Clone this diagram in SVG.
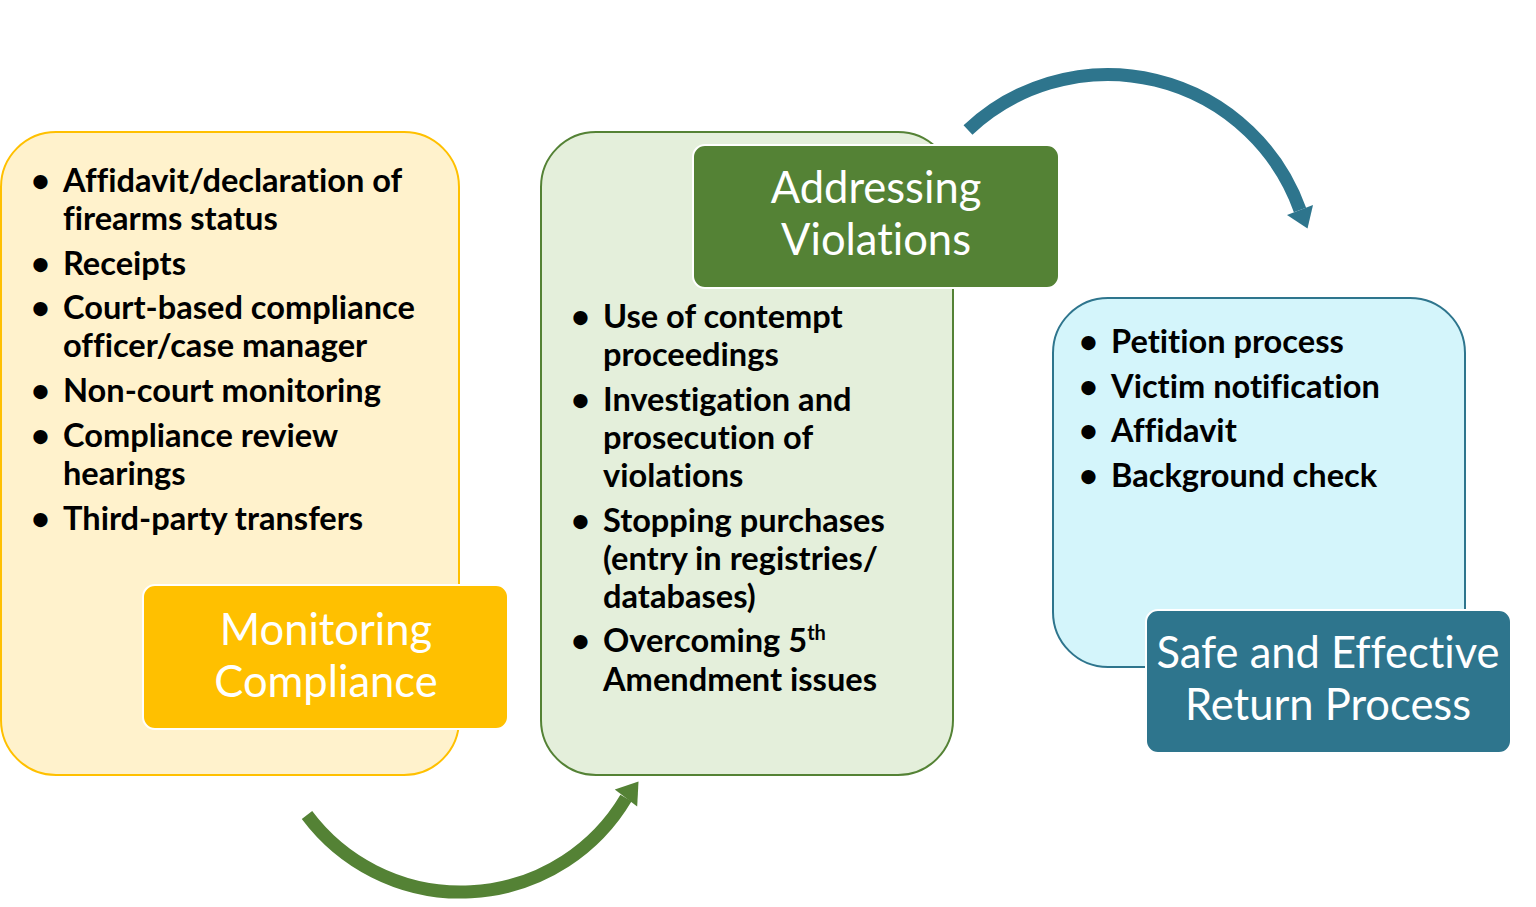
<svg xmlns="http://www.w3.org/2000/svg" width="1536" height="907" viewBox="0 0 1536 907">
<style>
.b{font-family:Lato,"Open Sans","Liberation Sans",sans-serif;font-weight:bold;font-size:32.6px;fill:#000;font-variant-ligatures:none}
.h{font-family:Lato,"Open Sans","Liberation Sans",sans-serif;font-size:43.5px;fill:#fff;text-anchor:middle;font-variant-ligatures:none}
.hdr{stroke:#fff;stroke-width:2}
</style>
<rect width="1536" height="907" fill="#fff"/>
<g id="connectors">
<path d="M 307 815 A 192 192 0 0 0 626 798" fill="none" stroke="#548235" stroke-width="13"/>
<polygon points="614.8,789.6 638.5,781.5 637.2,806.4" fill="#548235"/>
<path d="M 968 130 A 204 204 0 0 1 1300 210" fill="none" stroke="#2E758D" stroke-width="13"/>
<polygon points="1287,215 1313,205 1307.5,228.5" fill="#2E758D"/>
</g>
<g id="monitoring">
<rect x="1" y="132" width="458" height="643" rx="55" fill="#FFF2CC" stroke="#FFC000" stroke-width="2"/>
<g class="b">
<text x="31" y="192">•</text><text x="63" y="192">Affidavit/declaration of</text>
<text x="63" y="230">firearms status</text>
<text x="31" y="275">•</text><text x="63" y="275">Receipts</text>
<text x="31" y="319">•</text><text x="63" y="319">Court-based compliance</text>
<text x="63" y="357">officer/case manager</text>
<text x="31" y="402">•</text><text x="63" y="402">Non-court monitoring</text>
<text x="31" y="447">•</text><text x="63" y="447">Compliance review</text>
<text x="63" y="485">hearings</text>
<text x="31" y="530">•</text><text x="63" y="530">Third-party transfers</text>
</g>
<rect class="hdr" x="143" y="585" width="365" height="144" rx="12" fill="#FFC000"/>
<text class="h" x="326" y="645">Monitoring</text>
<text class="h" x="326" y="697">Compliance</text>
</g>
<g id="addressing">
<rect x="541" y="132" width="412" height="643" rx="55" fill="#E4EFDB" stroke="#548235" stroke-width="2"/>
<g class="b">
<text x="571" y="328">•</text><text x="603" y="328">Use of contempt</text>
<text x="603" y="366">proceedings</text>
<text x="571" y="411">•</text><text x="603" y="411">Investigation and</text>
<text x="603" y="449">prosecution of</text>
<text x="603" y="487">violations</text>
<text x="571" y="532">•</text><text x="603" y="532">Stopping purchases</text>
<text x="603" y="570">(entry in registries/</text>
<text x="603" y="608">databases)</text>
<text x="571" y="652">•</text><text x="603" y="652">Overcoming 5<tspan font-size="20" dy="-12">th</tspan></text>
<text x="603" y="691">Amendment issues</text>
</g>
<rect class="hdr" x="693" y="145" width="366" height="143" rx="12" fill="#548235"/>
<text class="h" x="876" y="203">Addressing</text>
<text class="h" x="876" y="255">Violations</text>
</g>
<g id="return">
<rect x="1053" y="298" width="412" height="369" rx="55" fill="#D4F5FB" stroke="#2E758D" stroke-width="2"/>
<g class="b">
<text x="1079" y="353">•</text><text x="1111" y="353">Petition process</text>
<text x="1079" y="398">•</text><text x="1111" y="398">Victim notification</text>
<text x="1079" y="442">•</text><text x="1111" y="442">Affidavit</text>
<text x="1079" y="487">•</text><text x="1111" y="487">Background check</text>
</g>
<rect class="hdr" x="1146" y="610" width="365" height="143" rx="12" fill="#2E758D"/>
<text class="h" x="1328" y="668">Safe and Effective</text>
<text class="h" x="1328" y="720">Return Process</text>
</g>
</svg>
